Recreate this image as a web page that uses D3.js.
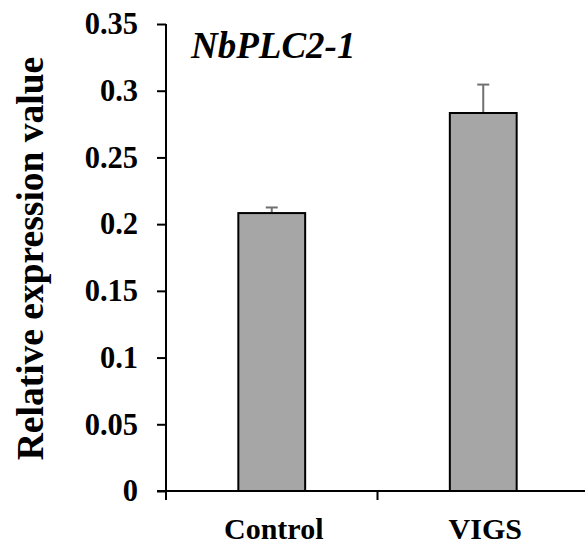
<html>
<head>
  <style>
    body { margin: 0; background: #fff; }
    text { font-family: "Liberation Serif", "Times New Roman", serif; font-weight: bold; }
  </style>
  <script src="https://d3js.org/d3.v7.min.js"></script>
</head>
<body>
<div id="chart"></div>
<script type="text/javascript">

var categories = ["Control", "VIGS"]
var values = [0.2083, 0.2833]
var errors = [0.0042, 0.0213]
var yTicks = [0, 0.05, 0.1, 0.15, 0.2, 0.25, 0.3, 0.35]
var yTickLabels = ["0", "0.05", "0.1", "0.15", "0.2", "0.25", "0.3", "0.35"]
var geneName = "NbPLC2-1"
var yTitle = "Relative expression value"

var width = 585
var height = 546
var m = {left: 166, right: -4, top: 24, bottom: 55}

var svg = d3.select("#chart").append("svg")
    .attr("width", width)
    .attr("height", height)

var x = d3.scaleBand()
    .domain(categories)
    .range([m.left, width - m.right])
    .paddingInner(0.684)
    .paddingOuter(0.342)

var y = d3.scaleLinear()
    .domain([0, 0.35])
    .range([height - m.bottom, m.top])

/* bars */
svg.selectAll("rect.bar")
    .data(values)
    .enter()
    .append("rect")
    .attr("class", "bar")
    .attr("x", function(d, i) { return x(categories[i]) })
    .attr("y", function(d) { return y(d) })
    .attr("width", x.bandwidth())
    .attr("height", function(d) { return y(0) - y(d) })
    .attr("fill", "#a6a6a6")
    .attr("stroke", "#000")
    .attr("stroke-width", 2)

/* error bars, upper only */
var err = svg.selectAll("g.err")
    .data(values)
    .enter()
    .append("g")
    .attr("class", "err")
    .attr("stroke", "#707070")
    .attr("stroke-width", 2)
err.append("line")
    .attr("x1", function(d, i) { return x(categories[i]) + x.bandwidth() / 2 })
    .attr("x2", function(d, i) { return x(categories[i]) + x.bandwidth() / 2 })
    .attr("y1", function(d) { return y(d) - 1 })
    .attr("y2", function(d, i) { return y(d + errors[i]) })
err.append("line")
    .attr("x1", function(d, i) { return x(categories[i]) + x.bandwidth() / 2 - 6 })
    .attr("x2", function(d, i) { return x(categories[i]) + x.bandwidth() / 2 + 6 })
    .attr("y1", function(d, i) { return y(d + errors[i]) })
    .attr("y2", function(d, i) { return y(d + errors[i]) })

/* y axis */
var yAxis = d3.axisLeft(y)
    .tickValues(yTicks)
    .tickFormat(function(d, i) { return yTickLabels[i] })
    .tickSize(9)
    .tickPadding(19)
var gy = svg.append("g")
    .attr("transform", "translate(" + m.left + ",0)")
    .call(yAxis)
gy.select(".domain").attr("d", "M0," + y(0.35) + "V" + (y(0) + 9)).attr("stroke-width", 2)
gy.selectAll(".tick line").attr("stroke-width", 2)
gy.selectAll(".tick text")
    .style("font-size", "30.5px")
    .attr("fill", "#000")

/* x axis: ticks between categories */
var gx = svg.append("g")
    .attr("transform", "translate(0," + y(0) + ")")
gx.append("line")
    .attr("x1", m.left - 9).attr("x2", width)
    .attr("stroke", "#000").attr("stroke-width", 2)
gx.selectAll("line.sep")
    .data(categories.slice(1))
    .enter()
    .append("line")
    .attr("class", "sep")
    .attr("x1", function(d) { return x(d) - x.step() * x.paddingInner() / 2 })
    .attr("x2", function(d) { return x(d) - x.step() * x.paddingInner() / 2 })
    .attr("y1", 0).attr("y2", 9)
    .attr("stroke", "#000").attr("stroke-width", 2)
gx.selectAll("text.cat")
    .data(categories)
    .enter()
    .append("text")
    .attr("class", "cat")
    .attr("x", function(d) { return x(d) + x.bandwidth() / 2 + 2 })
    .attr("y", 48)
    .attr("text-anchor", "middle")
    .style("font-size", "30px")
    .text(function(d) { return d })

/* titles */
svg.append("text")
    .attr("x", 191)
    .attr("y", 58)
    .style("font-size", "37px")
    .style("font-style", "italic")
    .text(geneName)

svg.append("text")
    .attr("transform", "translate(43," + ((y(0) + y(0.35)) / 2 + 1) + ") rotate(-90)")
    .attr("text-anchor", "middle")
    .style("font-size", "37.5px")
    .text(yTitle)

</script>
</body>
</html>
